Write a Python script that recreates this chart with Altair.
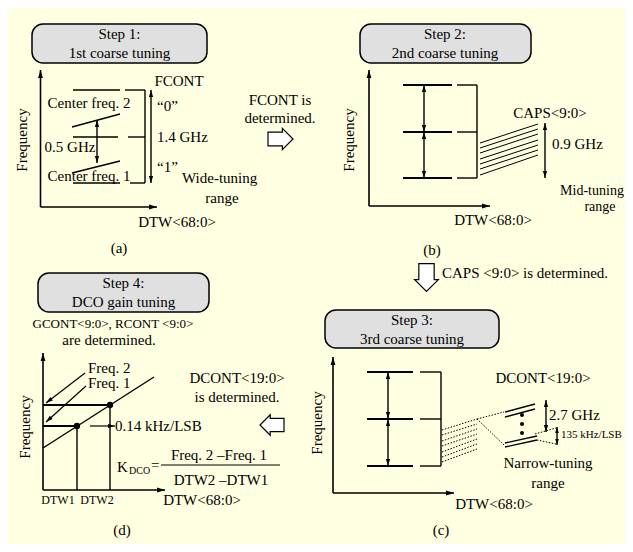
import math
import altair as alt
import pandas as pd

BG = "#ffffe1"
FONT = "Liberation Serif"

# ---------------- diagram data (reference pixel coordinates, y downwards) ----------------
# rounded title boxes: x1, x2, y1, y2
box_x1 = [32, 360, 325, 38]
box_x2 = [207, 531, 499, 209]
box_y1 = [24, 24, 310, 273]
box_y2 = [63, 63, 348, 312]

# axes (drawn as arrows, tip at the second point)
axis_arrows = [
    (40.5, 207, 40.5, 70), (40.5, 207, 157, 207),
    (369, 206, 369, 70), (369, 206, 490, 206),
    (333, 493, 333, 357), (333, 493, 454, 493),
    (43, 490, 43, 353), (43, 490, 165, 490),
]

# single-headed thin arrows
single_arrows = [
    (85, 373, 46, 403), (86, 386, 46, 422), (90, 426, 115, 426),
]

# double-headed arrows
double_arrows = [
    (97, 120, 97, 163), (151, 90, 151, 183),
    (424, 85, 424, 132), (424, 132, 424, 178), (545, 123, 545, 178),
    (388, 372, 388, 419), (388, 419, 388, 466), (546, 400, 546, 432),
]
small_double_arrows = [(557, 427, 557, 445)]

# medium lines
medium_lines = [
    # (a)
    (73, 90, 120, 90), (72, 127, 120, 114), (73, 137, 118, 137), (128, 137, 145, 137),
    (72, 173, 120, 161), (73, 183, 120, 183),
    (125, 90, 145, 90), (145, 90, 145, 183), (130, 183, 145, 183),
    # (b) bracket
    (457, 85, 477, 85), (457, 132, 477, 132), (457, 178, 477, 178), (477, 85, 477, 178),
    # (c) bracket
    (420, 372, 441, 372), (420, 419, 441, 419), (420, 466, 441, 466), (441, 372, 441, 466),
    # (c) narrow-tuning curves
    (505, 412, 535, 404), (505, 417, 535, 409), (505, 443, 537, 436), (505, 447, 537, 440),
    # (d)
    (43, 448, 154, 377), (77, 426, 77, 490), (110, 405, 110, 490),
]

# thin lines
fan_b_left = [143, 148, 153, 159, 164, 169, 175]
fan_b_right = [124, 129, 134, 140, 145, 150, 155]
thin_lines = [(480, l, 538, r) for l, r in zip(fan_b_left, fan_b_right)] + [
    (161, 465, 280, 465),
]

# thick lines
thick_lines = [
    (403, 85, 452, 85), (403, 132, 452, 132), (403, 178, 452, 178),
    (367, 372, 413, 372), (367, 419, 413, 419), (367, 466, 413, 466),
    (43, 405, 110, 405), (43, 426, 77, 426),
]

# dotted lines
fan_c_left = [430, 435, 441, 446, 452, 457, 462]
fan_c_right = [419, 424, 429, 434, 439, 444, 449]
dotted_lines = [(442, l, 477, r) for l, r in zip(fan_c_left, fan_c_right)] + [
    (477, 419, 504, 412), (477, 419, 504, 445), (535, 434, 556, 428), (537, 440, 556, 444),
]

# dots
big_dot_x = [77, 110]
big_dot_y = [426, 405]
small_dot_x = [522, 522, 522]
small_dot_y = [415, 424, 433]

# hollow block arrows: x, y, angle (0 = right), size
block_x = [280.5, 426.5, 272]
block_y = [139, 277.5, 425]
block_angle = [0, 90, 180]
block_size = [625, 780, 576]

# texts: text, x, y, font size
center_texts = [
    ("Step 1:", 119.5, 34, 15), ("1st coarse tuning", 119.5, 53, 15),
    ("Step 2:", 445, 34, 15), ("2nd coarse tuning", 445, 53, 15),
    ("Step 3:", 412, 320, 15), ("3rd coarse tuning", 412, 339, 15),
    ("Step 4:", 123.5, 283, 15), ("DCO gain tuning", 123.5, 302, 15),
    ("Center freq. 2", 89, 103, 15), ("0.5 GHz", 70, 147, 15), ("Center freq. 1", 89, 176, 15),
    ("FCONT", 179, 81, 15), ("range", 222, 198, 15),
    ("FCONT is", 280, 100, 15), ("determined.", 280, 118, 15),
    ("DTW<68:0>", 177, 222, 15), ("(a)", 119, 248, 15),
    ("CAPS<9:0>", 550, 113, 15), ("Mid-tuning", 592, 191, 14), ("range", 600, 207, 14),
    ("DTW<68:0>", 493, 220, 15), ("(b)", 432, 250, 15),
    ("DCONT<19:0>", 543, 378, 15), ("Narrow-tuning", 548, 463, 15), ("range", 548, 483, 15),
    ("DTW<68:0>", 494, 504, 15), ("(c)", 441, 530, 15),
    ("GCONT<9:0>, RCONT <9:0>", 113, 324, 13), ("are determined.", 109, 340, 15),
    ("DTW1", 58, 500, 12), ("DTW2", 97, 500, 12), ("DTW<68:0>", 202, 500, 15), ("(d)", 122, 530, 15),
    ("DCONT<19:0>", 237, 378, 15), ("is determined.", 237, 397, 15),
    ("Freq. 2 \u2013Freq. 1", 219, 455, 15), ("DTW2 \u2013DTW1", 221, 480, 15),
]
left_texts = [
    ("\u201c0\u201d", 157, 106, 15), ("1.4 GHz", 157, 137, 15), ("\u201c1\u201d", 157, 167, 15),
    ("Wide-tuning", 182, 178, 15), ("0.9 GHz", 552, 144, 15),
    ("CAPS <9:0> is determined.", 442, 273, 15), ("2.7 GHz", 549, 415, 15),
    ("135 kHz/LSB", 561, 435, 11),
    ("Freq. 2", 88, 368, 15), ("Freq. 1", 88, 383, 15), ("0.14 kHz/LSB", 115, 426, 15),
    ("K", 117, 467, 15), ("DCO", 129, 471, 10), ("=", 151, 465, 15),
]
rotated_texts = [
    ("Frequency", 22, 140, 15), ("Frequency", 349, 140, 15),
    ("Frequency", 317, 423, 15), ("Frequency", 25, 427, 15),
]

# ---------------- chart construction ----------------
W, H = 617, 536
xs = alt.Scale(domain=[8, 8 + W], nice=False, zero=False)
ys = alt.Scale(domain=[8 + H, 8], nice=False, zero=False)

HEAD = "M0,0L-0.6,2L0.6,2Z"
BLOCK = "M-1,-0.55L0.15,-0.55L0.15,-0.85L1,0L0.15,0.85L0.15,0.55L-1,0.55Z"


def seg_df(segs):
    return pd.DataFrame(segs, columns=["x", "y", "x2", "y2"])


def rules(segs, width, dash=None):
    kw = dict(color="black", strokeWidth=width, strokeCap="butt")
    if dash:
        kw["strokeDash"] = dash
    return alt.Chart(seg_df(segs)).mark_rule(**kw).encode(
        x=alt.X("x:Q", scale=xs, axis=None),
        y=alt.Y("y:Q", scale=ys, axis=None),
        x2="x2:Q", y2="y2:Q",
    )


def head_angle(x1, y1, x2, y2):
    return math.degrees(math.atan2(x2 - x1, -(y2 - y1))) % 360


def heads(arrows, double, size):
    rows = []
    for x1, y1, x2, y2 in arrows:
        rows.append((x2, y2, head_angle(x1, y1, x2, y2)))
        if double:
            rows.append((x1, y1, head_angle(x2, y2, x1, y1)))
    df = pd.DataFrame(rows, columns=["x", "y", "a"])
    return alt.Chart(df).mark_point(
        shape=HEAD, filled=True, color="black", opacity=1, size=size, strokeWidth=0
    ).encode(
        x=alt.X("x:Q", scale=xs, axis=None),
        y=alt.Y("y:Q", scale=ys, axis=None),
        angle=alt.Angle("a:Q", scale=None),
    )


def texts(items, align, angle=0):
    df = pd.DataFrame(items, columns=["t", "x", "y", "s"])
    return alt.Chart(df).mark_text(
        font=FONT, color="black", align=align, baseline="middle", angle=angle
    ).encode(
        x=alt.X("x:Q", scale=xs, axis=None),
        y=alt.Y("y:Q", scale=ys, axis=None),
        text="t:N",
        size=alt.Size("s:Q", scale=None),
    )


boxes = alt.Chart(pd.DataFrame({"x": box_x1, "x2": box_x2, "y": box_y1, "y2": box_y2})).mark_rect(
    cornerRadius=11, fill="#e0e0e0", stroke="black", strokeWidth=1.5
).encode(
    x=alt.X("x:Q", scale=xs, axis=None), x2="x2:Q",
    y=alt.Y("y:Q", scale=ys, axis=None), y2="y2:Q",
)

dots_big = alt.Chart(pd.DataFrame({"x": big_dot_x, "y": big_dot_y})).mark_point(
    filled=True, color="black", opacity=1, size=40, shape="circle"
).encode(x=alt.X("x:Q", scale=xs, axis=None), y=alt.Y("y:Q", scale=ys, axis=None))

dots_small = alt.Chart(pd.DataFrame({"x": small_dot_x, "y": small_dot_y})).mark_point(
    filled=True, color="black", opacity=1, size=16, shape="circle"
).encode(x=alt.X("x:Q", scale=xs, axis=None), y=alt.Y("y:Q", scale=ys, axis=None))

blocks = alt.Chart(pd.DataFrame({"x": block_x, "y": block_y, "a": block_angle, "s": block_size})).mark_point(
    shape=BLOCK, filled=True, fill="white", stroke="black", strokeWidth=1.2, opacity=1
).encode(
    x=alt.X("x:Q", scale=xs, axis=None),
    y=alt.Y("y:Q", scale=ys, axis=None),
    angle=alt.Angle("a:Q", scale=None),
    size=alt.Size("s:Q", scale=None),
)

chart = alt.layer(
    boxes,
    rules(thin_lines, 1),
    rules(medium_lines, 1.4),
    rules(thick_lines, 2.2),
    rules(dotted_lines, 1, [1.5, 1.5]),
    rules(axis_arrows, 1.6),
    rules(single_arrows, 1.2),
    rules(double_arrows + small_double_arrows, 1.4),
    heads(axis_arrows, False, 64),
    heads(single_arrows, False, 49),
    heads(double_arrows, True, 49),
    heads(small_double_arrows, True, 36),
    dots_big,
    dots_small,
    blocks,
    texts(center_texts, "center"),
    texts(left_texts, "left"),
    texts(rotated_texts, "center", 270),
).properties(
    width=W, height=H, background=BG, padding=0,
    autosize=alt.AutoSizeParams(type="none"),
).configure_view(strokeWidth=0)

chart.save("out.html", embed_options={"renderer": "svg", "actions": False})
